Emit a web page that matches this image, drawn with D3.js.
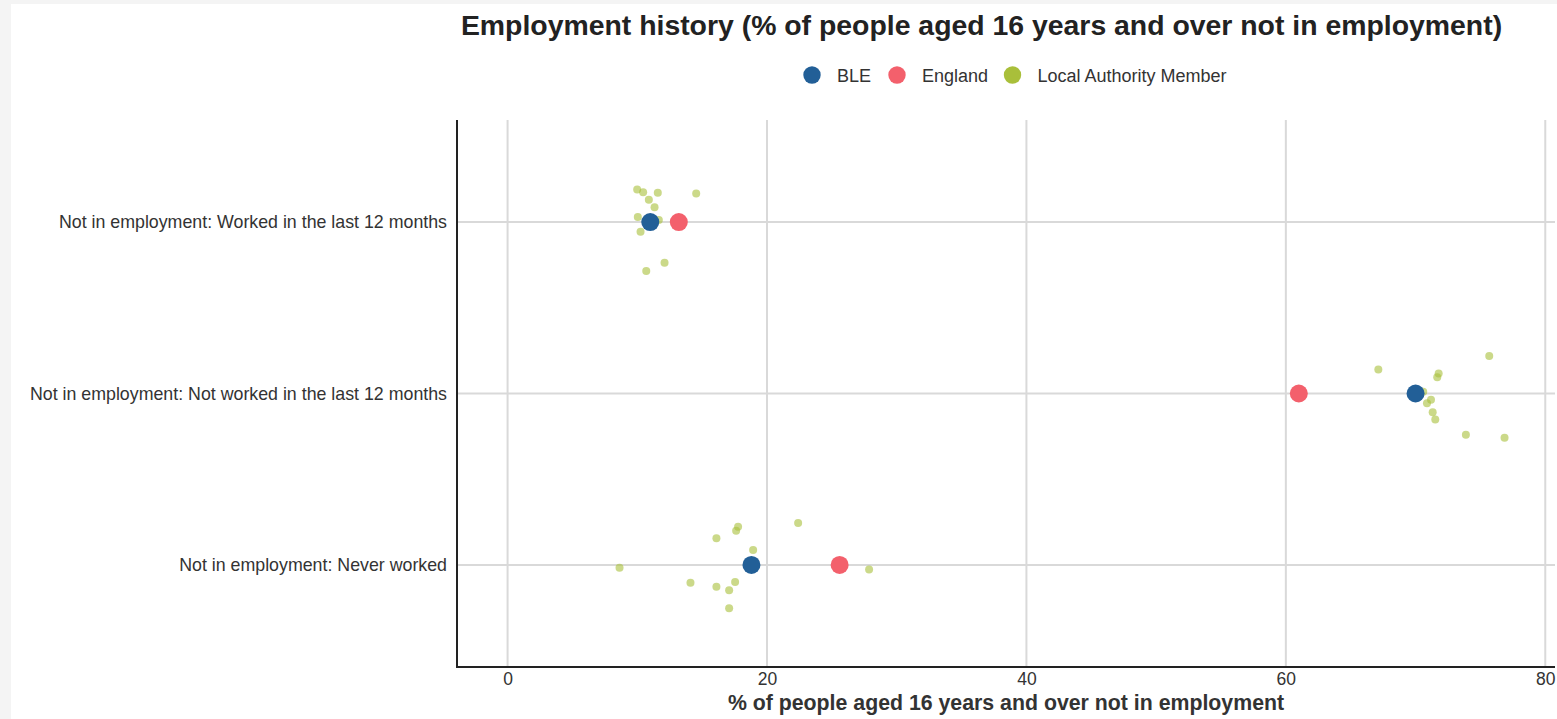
<!DOCTYPE html>
<html>
<head>
<meta charset="utf-8">
<script src="https://cdn.jsdelivr.net/npm/d3@7"></script>
<style>
  html, body { margin: 0; padding: 0; background: #f4f4f4; }
  svg { display: block; }
  text { font-family: "Liberation Sans", Arial, sans-serif; }
</style>
</head>
<body>
<svg id="chart" width="1557" height="719"></svg>
<script>
// ---------- DATA ----------
const categories = [
  "Not in employment: Worked in the last 12 months",
  "Not in employment: Not worked in the last 12 months",
  "Not in employment: Never worked"
];
const seriesNames = ["BLE", "England", "Local Authority Member"];
const xTicks = [0, 20, 40, 60, 80];

const bleValues = [11.0, 70.0, 18.8];
const englandValues = [13.2, 61.0, 25.6];

// Local authority member values per category, with vertical jitter (fraction of row spacing)
const laWorked = [9.99, 10.45, 11.58, 10.89, 11.33, 10.04, 11.66, 10.25, 12.10, 10.69, 14.54];
const laWorkedJitter = [-0.19, -0.173, -0.171, -0.13, -0.086, -0.029, -0.012, 0.057, 0.237, 0.286, -0.167];
const laNotWorked = [67.13, 75.68, 71.78, 71.67, 70.59, 71.19, 70.88, 71.32, 71.52, 73.88, 76.86];
const laNotWorkedJitter = [-0.14, -0.218, -0.117, -0.095, -0.01, 0.037, 0.057, 0.109, 0.152, 0.241, 0.258];
const laNever = [8.63, 14.10, 16.10, 16.10, 17.08, 17.54, 17.08, 17.62, 17.77, 18.93, 22.40, 27.87];
const laNeverJitter = [0.016, 0.103, -0.156, 0.127, 0.148, 0.099, 0.252, -0.2, -0.223, -0.087, -0.245, 0.027];

const titleText = "Employment history (% of people aged 16 years and over not in employment)";
const xTitle = "% of people aged 16 years and over not in employment";

// ---------- SETUP ----------
(function () {
const colors = { "BLE": "#225f97", "England": "#f3606c", "Local Authority Member": "#a9bf3a" };
const svg = d3.select("#chart");
const W = 1557, H = 719;

svg.append("rect").attr("x", 11).attr("y", 4).attr("width", W - 11).attr("height", H - 4).attr("fill", "#ffffff");

const pLeft = 457, pRight = 1555, pTop = 120, pBottom = 667;
const x = d3.scaleLinear().domain([-3.9, 80.75]).range([pLeft, pRight]);
const y = d3.scalePoint().domain(categories).range([pTop, pBottom]).padding(0.595);
const step = y.step();

// gridlines
const g = svg.append("g");
g.selectAll(".vgrid").data(xTicks).join("line")
  .attr("x1", d => x(d)).attr("x2", d => x(d))
  .attr("y1", pTop).attr("y2", pBottom)
  .attr("stroke", "#d9d9d9").attr("stroke-width", 2);
g.selectAll(".hgrid").data(categories).join("line")
  .attr("x1", pLeft).attr("x2", pRight)
  .attr("y1", d => y(d)).attr("y2", d => y(d))
  .attr("stroke", "#d9d9d9").attr("stroke-width", 2);

// axes
const xAxis = d3.axisBottom(x).tickValues(xTicks).tickSize(0).tickPadding(6);
const xg = svg.append("g").attr("transform", `translate(0,${pBottom})`).call(xAxis);
xg.select(".domain").remove();
xg.selectAll("text").attr("font-size", 17.5).attr("fill", "#333").attr("font-family", "Liberation Sans, Arial, sans-serif");

const yAxis = d3.axisLeft(y).tickSize(0).tickPadding(10);
const yg = svg.append("g").attr("transform", `translate(${pLeft},0)`).call(yAxis);
yg.select(".domain").remove();
yg.selectAll("text").attr("font-size", 17.8).attr("fill", "#333").attr("font-family", "Liberation Sans, Arial, sans-serif");

svg.append("line").attr("x1", pLeft).attr("x2", pLeft).attr("y1", pTop).attr("y2", pBottom + 1)
  .attr("stroke", "#222").attr("stroke-width", 2);
svg.append("line").attr("x1", pLeft).attr("x2", pRight).attr("y1", pBottom).attr("y2", pBottom)
  .attr("stroke", "#222").attr("stroke-width", 2);

// LA member points
const laData = [];
[[laWorked, laWorkedJitter], [laNotWorked, laNotWorkedJitter], [laNever, laNeverJitter]].forEach((pair, i) => {
  pair[0].forEach((v, j) => laData.push({ cat: categories[i], v: v, j: pair[1][j] }));
});
svg.append("g").selectAll("circle").data(laData).join("circle")
  .attr("cx", d => x(d.v)).attr("cy", d => y(d.cat) + d.j * step)
  .attr("r", 4).attr("fill", colors["Local Authority Member"]).attr("fill-opacity", 0.6);

// England & BLE points
const mainData = [];
categories.forEach((c, i) => {
  mainData.push({ cat: c, v: englandValues[i], s: "England" });
  mainData.push({ cat: c, v: bleValues[i], s: "BLE" });
});
svg.append("g").selectAll("circle").data(mainData).join("circle")
  .attr("cx", d => x(d.v)).attr("cy", d => y(d.cat))
  .attr("r", 9).attr("fill", d => colors[d.s]);

// title
svg.append("text").attr("x", 981.5).attr("y", 35).attr("text-anchor", "middle")
  .attr("font-size", 28.4).attr("font-weight", "bold").attr("fill", "#222").text(titleText);

// x axis title
svg.append("text").attr("x", 1006).attr("y", 710).attr("text-anchor", "middle")
  .attr("font-size", 21.3).attr("font-weight", "bold").attr("fill", "#333").text(xTitle);

// legend
const legendX = [812, 897, 1012.5];
const lg = svg.append("g");
seriesNames.forEach((s, i) => {
  lg.append("circle").attr("cx", legendX[i]).attr("cy", 75).attr("r", 8.7).attr("fill", colors[s]);
  lg.append("text").attr("x", legendX[i] + 25).attr("y", 81.5).attr("font-size", 18).attr("fill", "#333").text(s);
});
})();
</script>
</body>
</html>
